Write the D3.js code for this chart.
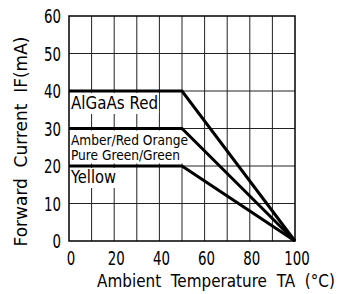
<!DOCTYPE html>
<html>
<head>
<meta charset="utf-8">
<script src="https://d3js.org/d3.v7.min.js"></script>
<style>
  body { margin: 0; background: #fff; }
  svg { font-family: "DejaVu Sans Condensed", "DejaVu Sans", sans-serif; }
</style>
</head>
<body>
<svg width="342" height="294"></svg>
<script>
// derating curves: current (mA) vs ambient temperature (°C)
const temps = [0, 50, 100];
const seriesValues = [[40, 40, 0], [30, 30, 0], [20, 20, 0]];
const xTicks = [0, 20, 40, 60, 80, 100];
const yTicks = [0, 10, 20, 30, 40, 50, 60];

const svg = d3.select("svg");
const margin = { top: 16, right: 47, bottom: 53, left: 69 };
const width = 342 - margin.left - margin.right;
const height = 294 - margin.top - margin.bottom;

const x = d3.scaleLinear().domain([0, 100]).range([0, width]);
const y = d3.scaleLinear().domain([0, 60]).range([height, 0]);

const g = svg.append("g").attr("transform", `translate(${margin.left},${margin.top})`);

// wide gaps between words, then squeeze so the text spans the given length
const gap = "\u00A0\u00A0";
function fitText(textSel, target) {
    const w = textSel.node().getComputedTextLength();
    textSel.attr("transform", `scale(${target / w},1)`);
}

// grid
g.selectAll(".vgrid")
    .data(d3.range(10, 100, 10))
    .enter().append("line")
    .attr("x1", d => x(d)).attr("x2", d => x(d))
    .attr("y1", 0).attr("y2", height)
    .attr("stroke", "#222").attr("stroke-width", 1);

g.selectAll(".hgrid")
    .data(d3.range(10, 60, 10))
    .enter().append("line")
    .attr("x1", 0).attr("x2", width)
    .attr("y1", d => y(d)).attr("y2", d => y(d))
    .attr("stroke", "#222").attr("stroke-width", 1);

// labels with white background covering the grid
const labels = [
    { lines: ["AlGaAs Red"], v: 40, size: 18, len: [87], lh: 17 },
    { lines: ["Amber/Red Orange", "Pure Green/Green"], v: 30, size: 14, len: [117, 109], lh: 15 },
    { lines: ["Yellow"], v: 20, size: 17, len: [45], lh: 16 }
];
labels.forEach(l => {
    const lg = g.append("g");
    l.lines.forEach((t, i) => {
        lg.append("text")
            .attr("x", 2)
            .attr("y", y(l.v) + 1 + (i + 1) * l.lh)
            .attr("font-size", l.size)
            .attr("textLength", l.len[i])
            .attr("lengthAdjust", "spacingAndGlyphs")
            .text(t);
    });
    const bb = lg.node().getBBox();
    lg.insert("rect", "text")
        .attr("x", 1).attr("y", y(l.v) + 2)
        .attr("width", bb.width + 2).attr("height", bb.y + bb.height - y(l.v) - 1)
        .attr("fill", "#fff");
});

// frame
g.append("rect")
    .attr("width", width).attr("height", height)
    .attr("fill", "none").attr("stroke", "#000").attr("stroke-width", 1.5);

// curves
const line = d3.line().x((d, i) => x(temps[i])).y(d => y(d));
g.selectAll(".curve")
    .data(seriesValues)
    .enter().append("path")
    .attr("d", line)
    .attr("fill", "none")
    .attr("stroke", "#000")
    .attr("stroke-width", 3)
    .attr("stroke-linejoin", "miter");

// tick labels (narrow digits)
g.selectAll(".xt")
    .data(xTicks)
    .enter().append("text")
    .attr("x", d => x(d) + 2).attr("y", height + 24)
    .attr("text-anchor", "middle")
    .attr("font-size", 19)
    .attr("textLength", d => String(d).length * 8.5)
    .attr("lengthAdjust", "spacingAndGlyphs")
    .text(d => d);

g.selectAll(".yt")
    .data(yTicks)
    .enter().append("text")
    .attr("x", -8).attr("y", d => y(d) + 7)
    .attr("text-anchor", "end")
    .attr("font-size", 19)
    .attr("textLength", d => String(d).length * 8.5)
    .attr("lengthAdjust", "spacingAndGlyphs")
    .text(d => d);

// axis titles
const xTitle = g.append("g").attr("transform", `translate(28,${height + 46})`)
    .append("text")
    .attr("font-size", 18)
    .text(["Ambient", "Temperature", "TA", "(°C)"].join(gap));
fitText(xTitle, 238);

const yTitle = g.append("g").attr("transform", `translate(-42,${141.5 - margin.top}) rotate(-90)`)
    .append("text")
    .attr("text-anchor", "middle")
    .attr("font-size", 17)
    .text(["Forward", "Current", "IF(mA)"].join(gap));
fitText(yTitle, 210);
</script>
</body>
</html>
